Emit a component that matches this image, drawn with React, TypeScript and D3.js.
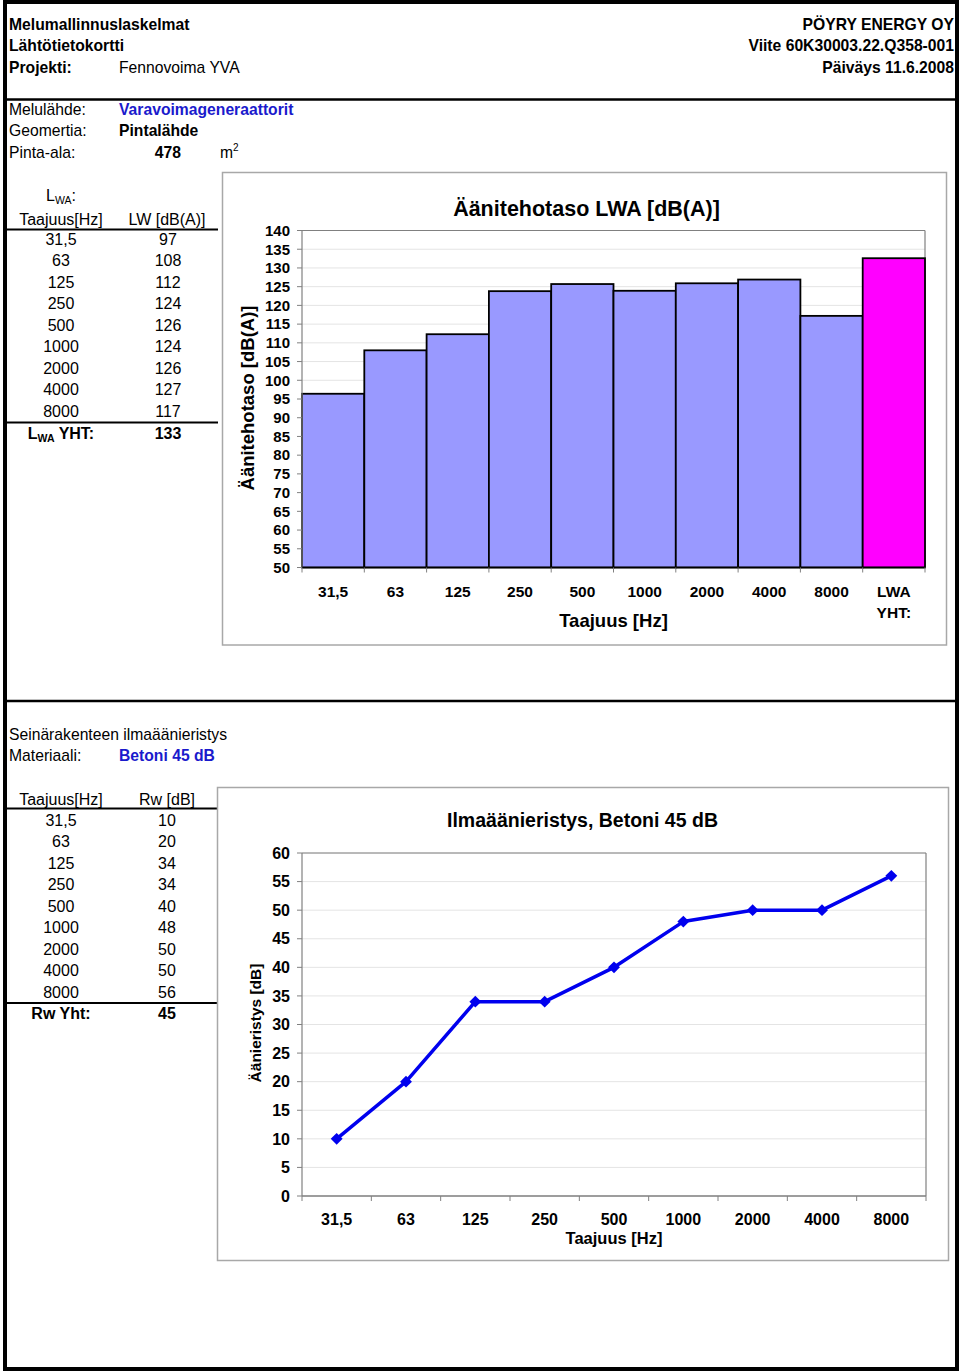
import React from "react";
import * as d3 from "d3";

// ---------- data ----------
const freqLabels = ["31,5", "63", "125", "250", "500", "1000", "2000", "4000", "8000"];
const lwTableValues = ["97", "108", "112", "124", "126", "124", "126", "127", "117"];
const lwTotalLabel = "133";
const barCategories = [...freqLabels, "LWA YHT:"];
const lwBarValues = [96.4, 108.0, 112.3, 123.8, 125.7, 123.9, 125.9, 126.9, 117.2, 132.6];
const yTicks1 = [50, 55, 60, 65, 70, 75, 80, 85, 90, 95, 100, 105, 110, 115, 120, 125, 130, 135, 140];

const rwValues = [10, 20, 34, 34, 40, 48, 50, 50, 56];
const rwTotalLabel = "45";
const yTicks2 = [0, 5, 10, 15, 20, 25, 30, 35, 40, 45, 50, 55, 60];

// ---------- styles ----------
const FONT = "'Liberation Sans', Arial, Helvetica, sans-serif";
const BLUE_TEXT = "#1a1acc";
const BAR_FILL = "#9999ff";
const TOTAL_FILL = "#ff00ff";
const LINE_COLOR = "#0000ee";
const GRID = "#e4e4e4";
const AXIS = "#808080";
const BOX = "#a8a8a8";

export default function App() {
  // chart 1 scales
  const x1 = d3.scaleBand<string>().domain(barCategories).range([302, 925]).padding(0);
  const y1 = d3.scaleLinear().domain([50, 140]).range([567.5, 230.5]);
  const bw1 = x1.bandwidth();

  // chart 2 scales
  const x2 = d3.scaleBand<string>().domain(freqLabels).range([302, 926]).padding(0);
  const y2 = d3.scaleLinear().domain([0, 60]).range([1196, 853]);
  const bw2 = x2.bandwidth();
  const pts: [number, number][] = rwValues.map((v, i) => [x2(freqLabels[i])! + bw2 / 2, y2(v)]);
  const linePath = d3.line()(pts) || "";
  const diamond = d3.symbol().type(d3.symbolDiamond2).size(90)() || "";

  const rowY1 = (i: number) => 239 + i * 21.5;
  const rowY2 = (i: number) => 820 + i * 21.5;
  const tb = 5.6; // baseline offset for ~16px text

  return (
    <svg
      width={960}
      height={1372}
      style={{ position: "absolute", left: 0, top: 0, background: "#fff" }}
      fontFamily={FONT}
    >
      <rect x={0} y={0} width={960} height={1372} fill="#fff" />
      {/* outer border */}
      <rect x={5} y={2} width={952} height={1367} fill="none" stroke="#000" strokeWidth={4} />
      <line x1={5} x2={957} y1={99.5} y2={99.5} stroke="#000" strokeWidth={2.5} />
      <line x1={5} x2={957} y1={701} y2={701} stroke="#000" strokeWidth={2.5} />

      {/* header */}
      <g fontSize={15.7}>
        <text x={9} y={29.5} fontWeight="bold">Melumallinnuslaskelmat</text>
        <text x={9} y={51} fontWeight="bold">Lähtötietokortti</text>
        <text x={9} y={72.5} fontWeight="bold">Projekti:</text>
        <text x={119} y={72.5}>Fennovoima YVA</text>
        <text x={954} y={29.5} fontWeight="bold" textAnchor="end">PÖYRY ENERGY OY</text>
        <text x={954} y={51} fontWeight="bold" textAnchor="end">Viite 60K30003.22.Q358-001</text>
        <text x={954} y={72.5} fontWeight="bold" textAnchor="end">Päiväys 11.6.2008</text>

        <text x={9} y={114.5}>Melulähde:</text>
        <text x={119} y={114.5} fontWeight="bold" fill={BLUE_TEXT}>Varavoimageneraattorit</text>
        <text x={9} y={136}>Geomertia:</text>
        <text x={119} y={136} fontWeight="bold">Pintalähde</text>
        <text x={9} y={157.5}>Pinta-ala:</text>
        <text x={181} y={158} fontWeight="bold" textAnchor="end">478</text>
        <text x={220} y={157.5}>m</text>
        <text x={233} y={151} fontSize={10}>2</text>
      </g>

      {/* table 1 */}
      <g fontSize={16} textAnchor="middle">
        <text x={61} y={201}>
          L<tspan fontSize={10.5} dy={3}>WA</tspan>
          <tspan dy={-3}>:</tspan>
        </text>
        <text x={61} y={219 + tb}>Taajuus[Hz]</text>
        <text x={167} y={219 + tb}>LW [dB(A)]</text>
        <line x1={6} x2={218} y1={229.5} y2={229.5} stroke="#000" strokeWidth={2} />
        {freqLabels.map((f, i) => (
          <g key={f}>
            <text x={61} y={rowY1(i) + tb}>{f}</text>
            <text x={168} y={rowY1(i) + tb}>{lwTableValues[i]}</text>
          </g>
        ))}
        <line x1={6} x2={218} y1={422.5} y2={422.5} stroke="#000" strokeWidth={2} />
        <text x={61} y={433.5 + tb} fontWeight="bold">
          L<tspan fontSize={10.5} dy={3}>WA</tspan>
          <tspan dy={-3}> YHT:</tspan>
        </text>
        <text x={168} y={433.5 + tb} fontWeight="bold">{lwTotalLabel}</text>
      </g>

      {/* chart 1 */}
      <rect x={222.5} y={172.5} width={724} height={472.5} fill="#fff" stroke={BOX} strokeWidth={1.5} />
      <text x={586.5} y={216} fontSize={21.5} fontWeight="bold" textAnchor="middle">
        Äänitehotaso LWA [dB(A)]
      </text>
      {yTicks1.map((t) => (
        <line key={"g" + t} x1={302} x2={925} y1={y1(t)} y2={y1(t)} stroke={GRID} strokeWidth={1} />
      ))}
      <line x1={302} x2={925} y1={y1(140)} y2={y1(140)} stroke={AXIS} strokeWidth={1.2} />
      <line x1={925} x2={925} y1={y1(140)} y2={y1(50)} stroke={AXIS} strokeWidth={1.2} />
      {lwBarValues.map((v, i) => (
        <rect
          key={barCategories[i]}
          x={x1(barCategories[i])!}
          y={y1(v)}
          width={bw1}
          height={y1(50) - y1(v)}
          fill={i === lwBarValues.length - 1 ? TOTAL_FILL : BAR_FILL}
          stroke="#000"
          strokeWidth={1.8}
        />
      ))}
      <line x1={302} x2={302} y1={y1(140)} y2={y1(50)} stroke={AXIS} strokeWidth={1.2} />
      <line x1={302} x2={925} y1={y1(50)} y2={y1(50)} stroke="#000" strokeWidth={1.5} />
      {yTicks1.map((t) => (
        <g key={"t" + t}>
          <line x1={297} x2={302} y1={y1(t)} y2={y1(t)} stroke={AXIS} strokeWidth={1} />
          <text x={290} y={y1(t) + 5.3} fontSize={15} fontWeight="bold" textAnchor="end">
            {t}
          </text>
        </g>
      ))}
      {[...barCategories.map((c) => x1(c)!), 925].map((xv, i) => (
        <line key={"xt" + i} x1={xv} x2={xv} y1={y1(50)} y2={y1(50) + 5} stroke={AXIS} strokeWidth={1} />
      ))}
      {barCategories.map((c, i) =>
        i < freqLabels.length ? (
          <text key={"xl" + c} x={x1(c)! + bw1 / 2} y={597} fontSize={15.5} fontWeight="bold" textAnchor="middle">
            {c}
          </text>
        ) : (
          <text key={"xl" + c} x={x1(c)! + bw1 / 2} y={597} fontSize={15.5} fontWeight="bold" textAnchor="middle">
            <tspan x={x1(c)! + bw1 / 2}>{c.split(" ")[0]}</tspan>
            <tspan x={x1(c)! + bw1 / 2} dy={20.5}>{c.split(" ")[1]}</tspan>
          </text>
        )
      )}
      <text x={613.5} y={626.5} fontSize={18.5} fontWeight="bold" textAnchor="middle">
        Taajuus [Hz]
      </text>
      <text
        transform="translate(253.5,398) rotate(-90)"
        fontSize={18.5}
        fontWeight="bold"
        textAnchor="middle"
      >
        Äänitehotaso [dB(A)]
      </text>

      {/* section 2 header */}
      <g fontSize={15.7}>
        <text x={9} y={734.5 + tb}>Seinärakenteen ilmaäänieristys</text>
        <text x={9} y={755.5 + tb}>Materiaali:</text>
        <text x={119} y={755.5 + tb} fontWeight="bold" fill={BLUE_TEXT}>Betoni 45 dB</text>
      </g>

      {/* table 2 */}
      <g fontSize={16} textAnchor="middle">
        <text x={61} y={799 + tb}>Taajuus[Hz]</text>
        <text x={167} y={799 + tb}>Rw [dB]</text>
        <line x1={6} x2={217} y1={808.5} y2={808.5} stroke="#000" strokeWidth={2} />
        {freqLabels.map((f, i) => (
          <g key={"r" + f}>
            <text x={61} y={rowY2(i) + tb}>{f}</text>
            <text x={167} y={rowY2(i) + tb}>{rwValues[i]}</text>
          </g>
        ))}
        <line x1={6} x2={217} y1={1003} y2={1003} stroke="#000" strokeWidth={2} />
        <text x={61} y={1013.5 + tb} fontWeight="bold">Rw Yht:</text>
        <text x={167} y={1013.5 + tb} fontWeight="bold">{rwTotalLabel}</text>
      </g>

      {/* chart 2 */}
      <rect x={217.5} y={787.5} width={731} height={473} fill="#fff" stroke={BOX} strokeWidth={1.5} />
      <text x={582.5} y={827} fontSize={19.5} fontWeight="bold" textAnchor="middle">
        Ilmaäänieristys, Betoni 45 dB
      </text>
      {yTicks2.map((t) => (
        <line key={"g2" + t} x1={302} x2={926} y1={y2(t)} y2={y2(t)} stroke={GRID} strokeWidth={1} />
      ))}
      <line x1={302} x2={926} y1={y2(60)} y2={y2(60)} stroke={AXIS} strokeWidth={1.2} />
      <line x1={926} x2={926} y1={y2(60)} y2={y2(0)} stroke={AXIS} strokeWidth={1.2} />
      <line x1={302} x2={302} y1={y2(60)} y2={y2(0)} stroke={AXIS} strokeWidth={1.2} />
      <line x1={302} x2={926} y1={y2(0)} y2={y2(0)} stroke={AXIS} strokeWidth={1.5} />
      {yTicks2.map((t) => (
        <g key={"t2" + t}>
          <line x1={297} x2={302} y1={y2(t)} y2={y2(t)} stroke={AXIS} strokeWidth={1} />
          <text x={290} y={y2(t) + 5.7} fontSize={16} fontWeight="bold" textAnchor="end">
            {t}
          </text>
        </g>
      ))}
      {[...freqLabels.map((c) => x2(c)!), 926].map((xv, i) => (
        <line key={"xt2" + i} x1={xv} x2={xv} y1={y2(0)} y2={y2(0) + 5} stroke={AXIS} strokeWidth={1} />
      ))}
      {freqLabels.map((c) => (
        <text key={"xl2" + c} x={x2(c)! + bw2 / 2} y={1225} fontSize={16} fontWeight="bold" textAnchor="middle">
          {c}
        </text>
      ))}
      <text x={614} y={1244} fontSize={16.5} fontWeight="bold" textAnchor="middle">
        Taajuus [Hz]
      </text>
      <text
        transform="translate(260.5,1023) rotate(-90)"
        fontSize={15.5}
        fontWeight="bold"
        textAnchor="middle"
      >
        Äänieristys [dB]
      </text>
      <path d={linePath} fill="none" stroke={LINE_COLOR} strokeWidth={3.5} strokeLinejoin="round" />
      {pts.map((p, i) => (
        <path key={"m" + i} d={diamond} transform={`translate(${p[0]},${p[1]})`} fill={LINE_COLOR} />
      ))}
    </svg>
  );
}
